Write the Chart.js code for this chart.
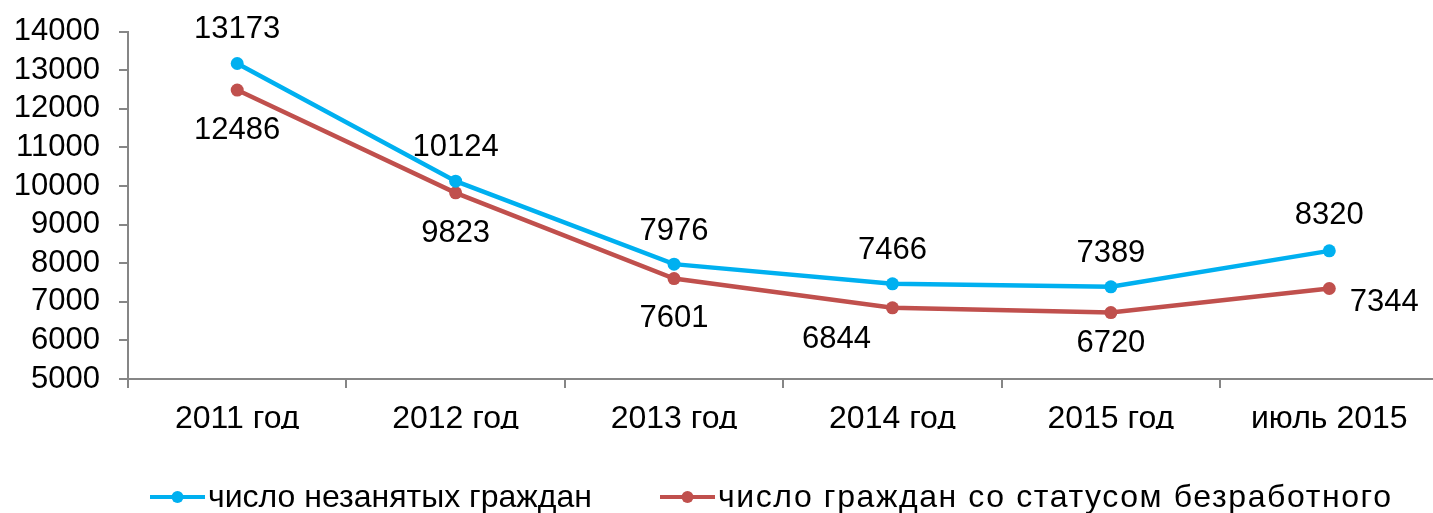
<!DOCTYPE html>
<html>
<head>
<meta charset="utf-8">
<script src="https://cdn.jsdelivr.net/npm/chart.js@4"></script>
<style>
html,body{margin:0;padding:0;background:#fff;overflow:hidden;width:1433px;height:513px;}
#wrap{position:absolute;left:0;top:-6px;width:1445px;height:519px;}
</style>
</head>
<body>
<div id="wrap"><canvas id="c"></canvas></div>
<script>
const categories = ['2011 год', '2012 год', '2013 год', '2014 год', '2015 год', 'июль 2015'];
const unemployed = [13173, 10124, 7976, 7466, 7389, 8320];
const registered = [12486, 9823, 7601, 6844, 6720, 7344];
const seriesNames = ['число незанятых граждан', 'число граждан со статусом безработного'];
const yTicks = [5000, 6000, 7000, 8000, 9000, 10000, 11000, 12000, 13000, 14000];

const BLUE = '#00B0F0';
const RED = '#C0504D';
const FONT = '"Liberation Sans", Arial, sans-serif';

// label offsets relative to point (style only)
const labelOffsets = [
  [[0,-35],[0,-35],[0,-34],[0,-34],[0,-34],[0,-36]],
  [[0,39],[0,40],[0,39],[-56,31],[0,30],[55,13]]
];

const labelPlugin = {
  id: 'pointLabels',
  afterDatasetsDraw(chart) {
    const ctx = chart.ctx;
    ctx.save();
    ctx.font = '31px ' + FONT;
    ctx.fillStyle = '#000';
    ctx.textAlign = 'center';
    ctx.textBaseline = 'middle';
    chart.data.datasets.forEach((ds, di) => {
      const meta = chart.getDatasetMeta(di);
      meta.data.forEach((pt, i) => {
        const o = labelOffsets[di][i];
        ctx.fillText(String(ds.data[i]), pt.x + o[0], pt.y + o[1] + 1);
      });
    });
    ctx.restore();
  }
};

const legendPlugin = {
  id: 'customLegend',
  afterDraw(chart) {
    const ctx = chart.ctx;
    const y = 503;
    const items = [
      {x: 150, color: BLUE, text: seriesNames[0], spacing: '0px'},
      {x: 660, color: RED, text: seriesNames[1], spacing: '1.6px'}
    ];
    ctx.save();
    items.forEach(it => {
      ctx.strokeStyle = it.color;
      ctx.lineWidth = 4;
      ctx.beginPath();
      ctx.moveTo(it.x, y);
      ctx.lineTo(it.x + 55, y);
      ctx.stroke();
      ctx.fillStyle = it.color;
      ctx.beginPath();
      ctx.arc(it.x + 27.5, y, 6, 0, Math.PI * 2);
      ctx.fill();
      ctx.fillStyle = '#000';
      ctx.font = '32px ' + FONT;
      ctx.textAlign = 'left';
      ctx.textBaseline = 'middle';
      if ('letterSpacing' in ctx) ctx.letterSpacing = it.spacing;
      ctx.fillText(it.text, it.x + 58, y + 1);
    });
    ctx.restore();
  }
};

new Chart(document.getElementById('c'), {
  type: 'line',
  data: {
    labels: categories,
    datasets: [
      {label: seriesNames[0], data: unemployed, borderColor: BLUE, backgroundColor: BLUE,
       borderWidth: 4.5, pointRadius: 6.5, pointBackgroundColor: BLUE, pointBorderWidth: 0, tension: 0},
      {label: seriesNames[1], data: registered, borderColor: RED, backgroundColor: RED,
       borderWidth: 4.5, pointRadius: 6.5, pointBackgroundColor: RED, pointBorderWidth: 0, tension: 0}
    ]
  },
  options: {
    responsive: true,
    maintainAspectRatio: false,
    animation: false,
    layout: {padding: {top: 19, bottom: 84, left: 0, right: 0}},
    plugins: {legend: {display: false}, tooltip: {enabled: false}, title: {display: false}},
    scales: {
      x: {
        offset: true,
        grid: {display: true, drawOnChartArea: false, drawTicks: true, tickLength: 9, color: '#868686', offset: true, lineWidth: 2},
        border: {display: true, color: '#868686', width: 2},
        ticks: {color: '#000', font: {family: FONT, size: 32}, padding: 12, maxRotation: 0, autoSkip: false},
        afterFit(s) { s.height = 50; }
      },
      y: {
        min: 5000, max: 14000,
        afterBuildTicks(s) { s.ticks = yTicks.map(v => ({value: v})); },
        grid: {display: true, drawOnChartArea: false, drawTicks: true, tickLength: 9, color: '#868686', lineWidth: 2},
        border: {display: true, color: '#868686', width: 2},
        ticks: {color: '#000', font: {family: FONT, size: 31}, padding: 19, autoSkip: false,
                callback: v => String(v)},
        afterFit(s) { s.width = 128; }
      }
    }
  },
  plugins: [labelPlugin, legendPlugin]
});
</script>
</body>
</html>
